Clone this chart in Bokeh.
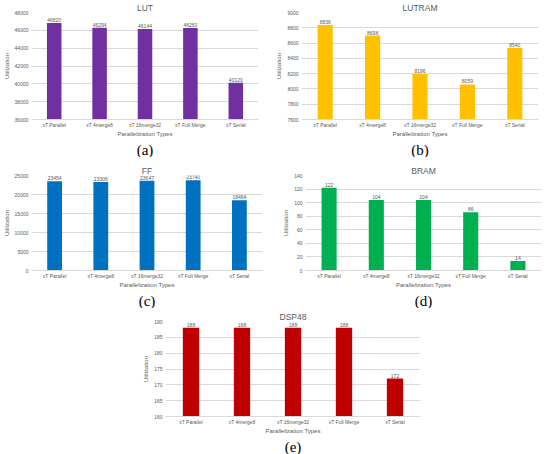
from bokeh.plotting import figure
from bokeh.layouts import column, row
from bokeh.models import (ColumnDataSource, FactorRange, Range1d, FixedTicker,
                          Title, Spacer)
from bokeh.embed import file_html
from bokeh.resources import INLINE

# Parallelization variants (shared x categories)
categories = ["xT Parallel", "xT 4merge8", "xT 16merge32", "xT Full Merge", "xT Serial"]

# Resource utilization per variant
lut = [46820, 46294, 46144, 46260, 40120]
lutram = [8836, 8698, 8196, 8059, 8540]
ff = [23454, 23306, 23647, 23740, 18464]
bram = [122, 104, 104, 86, 14]
dsp48 = [188, 188, 188, 188, 172]

# Axis ticks for each panel
lut_ticks = [36000, 38000, 40000, 42000, 44000, 46000, 48000]
lutram_ticks = [7600, 7800, 8000, 8200, 8400, 8600, 8800, 9000]
ff_ticks = [0, 5000, 10000, 15000, 20000, 25000]
bram_ticks = [0, 20, 40, 60, 80, 100, 120, 140]
dsp_ticks = [160, 165, 170, 175, 180, 185, 190]

TEXT = "#595959"
GRID = "#d9d9d9"
FONT = "Liberation Sans"


def panel(name, values, ticks, color, caption, width, height,
          left, right, top, bottom):
    src = ColumnDataSource(dict(cat=categories, val=values,
                                lab=[str(v) for v in values]))
    p = figure(x_range=FactorRange(*categories),
               y_range=Range1d(ticks[0], ticks[-1]),
               width=width, height=height, output_backend="svg",
               toolbar_location=None, tools="",
               min_border_left=left, min_border_right=right,
               min_border_top=top, min_border_bottom=bottom)
    p.title.text = name
    p.title.align = "center"
    p.title.text_font = FONT
    p.title.text_font_style = "normal"
    p.title.text_font_size = "8.5px"
    p.title.text_color = TEXT
    p.title.standoff = 0
    p.title.offset = 0
    p.outline_line_color = None

    p.vbar(x="cat", top="val", bottom=ticks[0], width=0.32, source=src,
           fill_color=color, line_color=None)
    p.text(x="cat", y="val", text="lab", source=src, text_align="center",
           text_baseline="bottom", y_offset=-1, text_font_size="5px",
           text_color=TEXT, text_font={"value": FONT})

    p.yaxis.ticker = FixedTicker(ticks=ticks)
    p.yaxis.axis_line_color = None
    p.yaxis.major_tick_line_color = None
    p.yaxis.minor_tick_line_color = None
    p.yaxis.major_tick_out = 0
    p.yaxis.major_label_text_font_size = "5px"
    p.yaxis.major_label_text_color = TEXT
    p.yaxis.major_label_text_font = FONT
    p.yaxis.major_label_standoff = 3
    p.yaxis.axis_label = "Utilization"
    p.yaxis.axis_label_text_font_size = "6px"
    p.yaxis.axis_label_text_font_style = "normal"
    p.yaxis.axis_label_text_color = TEXT
    p.yaxis.axis_label_text_font = FONT
    p.yaxis.axis_label_standoff = 2

    p.xaxis.axis_line_color = GRID
    p.xaxis.major_tick_line_color = None
    p.xaxis.minor_tick_line_color = None
    p.xaxis.major_tick_out = 0
    p.xaxis.minor_tick_out = 0
    p.xaxis.major_label_text_font_size = "5px"
    p.xaxis.major_label_text_color = TEXT
    p.xaxis.major_label_text_font = FONT
    p.xaxis.major_label_standoff = 2
    p.xaxis.axis_label = "Parallelization Types"
    p.xaxis.axis_label_text_font_size = "6px"
    p.xaxis.axis_label_text_font_style = "normal"
    p.xaxis.axis_label_text_color = TEXT
    p.xaxis.axis_label_text_font = FONT
    p.xaxis.axis_label_standoff = 0

    p.xgrid.grid_line_color = None
    p.ygrid.grid_line_color = GRID
    p.ygrid.grid_line_width = 1

    p.add_layout(Title(text=caption, align="center", text_font="Liberation Serif",
                       text_font_size="15px", text_font_style="normal",
                       text_color="#000000", standoff=0, offset=0), "below")
    return p


pa = panel("LUT", lut, lut_ticks, "#7030A0", "(a)", 268, 157, 23, 10, 8, 34)
pb = panel("LUTRAM", lutram, lutram_ticks, "#FFC000", "(b)", 279, 157, 33, 9, 8, 34)
pc = panel("FF", ff, ff_ticks, "#0070C0", "(c)", 268, 151, 29, 6, 18, 34)
pd = panel("BRAM", bram, bram_ticks, "#00B050", "(d)", 279, 151, 37, 6, 18, 34)
pe = panel("DSP48", dsp48, dsp_ticks, "#C00000", "(e)", 285, 146, 25, 5, 13, 30)

layout = column(row(pa, pb, spacing=0),
                row(pc, pd, spacing=0),
                row(Spacer(width=140, height=146), pe, spacing=0),
                spacing=0)

open("out.html", "w").write(file_html(layout, INLINE))
